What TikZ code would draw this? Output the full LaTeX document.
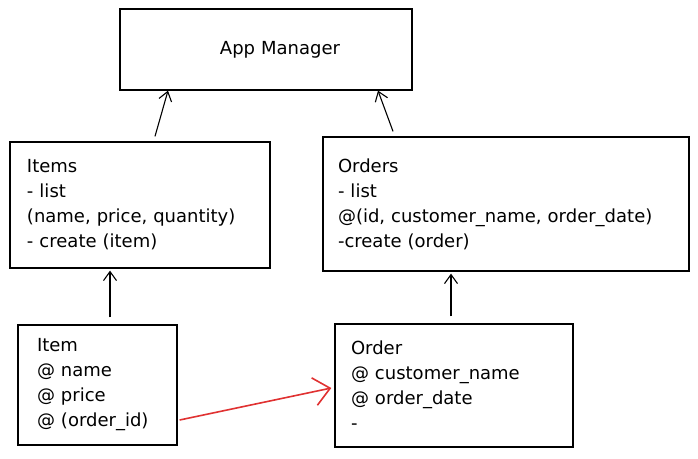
\documentclass[tikz,border=0pt]{standalone}
\usepackage{fontspec}
\setmainfont{DejaVu Sans}
\usepackage{tikz}
\usetikzlibrary{arrows.meta}
\usetikzlibrary{positioning}

\definecolor{sketchred}{RGB}{224,49,49}

\begin{document}
\begin{tikzpicture}
				[x=1pt,y=-1pt,line width=1.3pt,
				 every node/.style={draw,rectangle,line width=1.3pt,font=\fontsize{18}{25}\selectfont},
				 classbox/.style={align=left,anchor=center,inner ysep=0pt},
				 link/.style={-{Straight Barb[length=9pt,width=13pt,line width=1.1pt]},line width=1.1pt},
				 reflink/.style={-{Straight Barb[length=16pt,width=28pt,line width=1.6pt]},line width=1.6pt,sketchred}]
				\useasboundingbox (0,0) rectangle (698,458);
				\node (app) at (266,49.5) [minimum width=292pt,minimum height=81pt,inner xsep=0pt,text width=292pt,align=center] {\hspace*{28pt}App Manager};
				\node (items) at (140,205) [classbox,minimum width=260pt,minimum height=126pt,inner xsep=17pt,text width=226pt]
					{Items\\- list\\(name, price, quantity)\\- create (item)};
				\node (orders) at (506,204) [classbox,minimum width=366pt,minimum height=134pt,inner xsep=15pt,text width=336pt]
					{Orders\\- list\\@(id, customer\_name, order\_date)\\-create (order)\\[10pt]};
				\node (item) at (97.5,385) [classbox,minimum width=159pt,minimum height=120pt,inner xsep=19pt,text width=121pt]
					{Item\\@ name\\@ price\\@ (order\_id)};
				\node (order) at (454,385.5) [classbox,minimum width=238pt,minimum height=123pt,inner xsep=16pt,text width=206pt]
					{Order\\@ customer\_name\\@ order\_date\\-};
				
				\draw[link] ([xshift=15pt,yshift=5pt]items.north) -- ([xshift=-98pt]app.south);
				\draw[link] ([xshift=-113pt,yshift=5pt]orders.north) -- ([xshift=112pt]app.south);
				\draw[link] ([xshift=12.5pt,yshift=7pt]item.north) -- ([xshift=-30pt,yshift=-2pt]items.south);
				\draw[link] ([xshift=-3pt,yshift=7pt]order.north) -- ([xshift=-55pt,yshift=-2pt]orders.south);
				\draw[reflink] ([xshift=2pt,yshift=-35pt]item.east) -- ([xshift=-3pt,yshift=-2.5pt]order.west);
			\end{tikzpicture}
\end{document}
